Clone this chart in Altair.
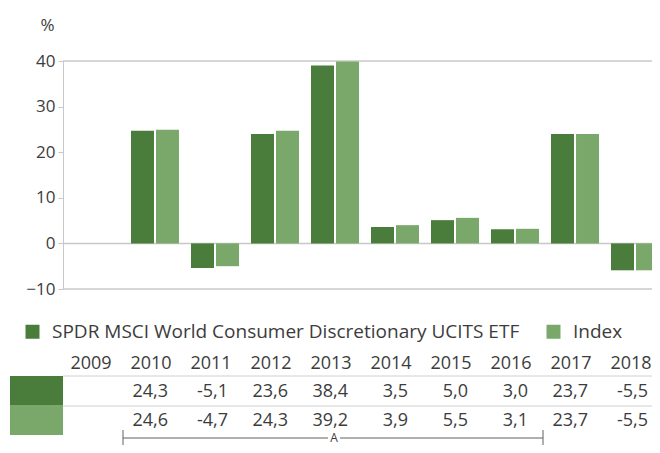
import altair as alt
import pandas as pd

years = ["2009", "2010", "2011", "2012", "2013", "2014", "2015", "2016", "2017", "2018"]
etf_name = "SPDR MSCI World Consumer Discretionary UCITS ETF"
idx_name = "Index"
# bar heights
etf_bars = [None, 24.7, -5.4, 24.0, 39.0, 3.6, 5.1, 3.1, 24.0, -5.9]
idx_bars = [None, 24.9, -5.0, 24.7, 39.9, 4.0, 5.6, 3.2, 24.0, -5.9]
# values printed in the table
etf_table = [None, 24.3, -5.1, 23.6, 38.4, 3.5, 5.0, 3.0, 23.7, -5.5]
idx_table = [None, 24.6, -4.7, 24.3, 39.2, 3.9, 5.5, 3.1, 23.7, -5.5]
y_ticks = [-10, 0, 10, 20, 30, 40]

DARK = "#4a7c3b"
LIGHT = "#7aa86a"
TXT = "#3c3c3c"
GRID = "#c8c8c8"
FONT = "Open Sans"

rows = []
for i, y in enumerate(years):
    if etf_bars[i] is not None:
        rows.append({"year": y, "series": etf_name, "value": etf_bars[i]})
    if idx_bars[i] is not None:
        rows.append({"year": y, "series": idx_name, "value": idx_bars[i]})
bars_df = pd.DataFrame(rows)

def fmt(v):
    return "" if v is None else f"{v:.1f}".replace(".", ",")

table_df = pd.DataFrame({
    "year": years,
    "etf": [fmt(v) for v in etf_table],
    "idx": [fmt(v) for v in idx_table],
})

W, H = 589, 228
xscale = alt.Scale(domain=years, range=[0, 604], paddingInner=0.2, paddingOuter=0.133)
yscale = alt.Scale(domain=[-10, 40], nice=False, zero=False)

bars = alt.Chart(bars_df).mark_bar().encode(
    x=alt.X("year:N", scale=xscale, axis=None),
    xOffset=alt.XOffset("series:N", sort=[etf_name, idx_name], scale=alt.Scale(paddingInner=0.08)),
    y=alt.Y("value:Q", scale=yscale, axis=alt.Axis(
        values=y_ticks, grid=False, domainColor=GRID, tickColor=GRID, tickSize=5,
        labelFontSize=17, labelColor=TXT, labelPadding=3, labelFont=FONT,
        title="%", titleAngle=0, titleX=-16, titleY=-36, titleAlign="center",
        titleBaseline="middle", titleFontSize=17, titleFontWeight="normal",
        titleColor=TXT, titleFont=FONT)),
    color=alt.Color("series:N", scale=alt.Scale(domain=[etf_name, idx_name], range=[DARK, LIGHT]),
                    legend=alt.Legend(orient="none", legendX=-40, legendY=261, direction="horizontal",
                                      title=None, symbolType="square", symbolSize=196,
                                      symbolStrokeWidth=0, symbolOpacity=1, labelFontSize=19,
                                      labelColor=TXT, labelFont=FONT, labelLimit=700,
                                      labelOffset=10, columnPadding=24, padding=0)),
)

hlines = alt.Chart(pd.DataFrame({"v": [40, 0, -10]})).mark_rule(color=GRID, strokeWidth=1.5).encode(
    y=alt.Y("v:Q", scale=yscale), x=alt.value(0), x2=alt.value(620))

header = alt.Chart(table_df).mark_text(fontSize=18, color=TXT, font=FONT, align="center",
                                       baseline="middle", dx=-4).encode(
    x=alt.X("year:N", scale=xscale), y=alt.value(303), text="year:N")
row1 = alt.Chart(table_df).mark_text(fontSize=18, color=TXT, font=FONT, align="right",
                                     baseline="middle", dx=13).encode(
    x=alt.X("year:N", scale=xscale), y=alt.value(331), text="etf:N")
row2 = alt.Chart(table_df).mark_text(fontSize=18, color=TXT, font=FONT, align="right",
                                     baseline="middle", dx=13).encode(
    x=alt.X("year:N", scale=xscale), y=alt.value(360), text="idx:N")

tlines = alt.Chart(pd.DataFrame({"p": [315, 345]})).mark_rule(color="#d0d0d0", strokeWidth=1).encode(
    y=alt.Y("p:Q", scale=None), x=alt.value(0), x2=alt.value(620))

sw = alt.Chart(pd.DataFrame({"a": [315, 344], "b": [344, 374], "c": [DARK, LIGHT]})).mark_rect().encode(
    x=alt.value(-53), x2=alt.value(0), y=alt.Y("a:Q", scale=None), y2="b:Q",
    color=alt.Color("c:N", scale=None))

br_h = alt.Chart(pd.DataFrame({"x1": [60, 277], "x2": [265, 480]})).mark_rule(color="#606060", strokeWidth=1).encode(
    x=alt.X("x1:Q", scale=None), x2="x2:Q", y=alt.value(377))
br_v = alt.Chart(pd.DataFrame({"x1": [60, 480]})).mark_rule(color="#606060", strokeWidth=1).encode(
    x=alt.X("x1:Q", scale=None), y=alt.value(369), y2=alt.value(390))
br_t = alt.Chart(pd.DataFrame({"t": ["A"]})).mark_text(fontSize=12, color=TXT, font=FONT,
                                                    align="center", baseline="middle").encode(
    x=alt.value(271), y=alt.value(377), text="t:N")

chart = alt.layer(hlines, bars, header, row1, row2, tlines, sw, br_h, br_v, br_t).properties(
    width=W, height=H,
    autosize=alt.AutoSizeParams(type="none"),
    padding={"left": 55, "top": 53, "right": 0, "bottom": 156},
).configure_view(stroke=None)

chart.save("out.html", embed_options={"renderer": "svg", "actions": False})
